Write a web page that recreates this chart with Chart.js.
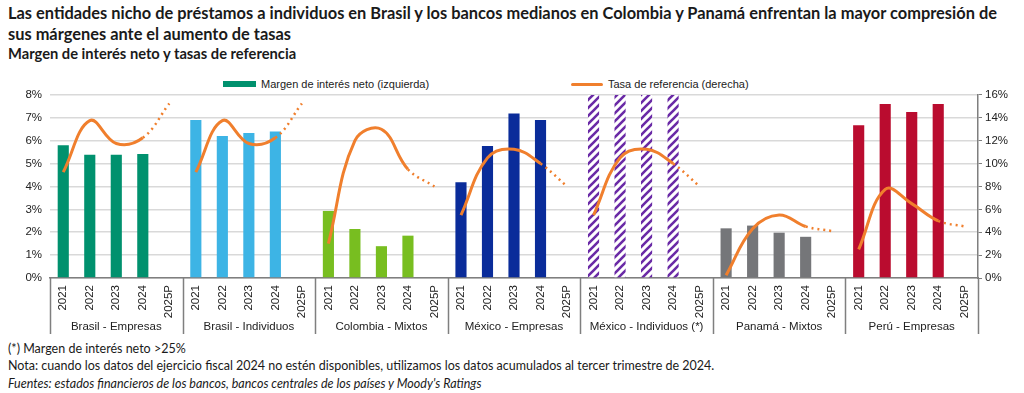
<!DOCTYPE html>
<html lang="es">
<head>
<meta charset="utf-8">
<title>Margen de interés neto y tasas de referencia</title>
<script src="https://cdn.jsdelivr.net/npm/chart.js@4"></script>
<style>
  body { margin: 0; background: #fff; width: 1024px; height: 393px; overflow: hidden; position: relative; font-family: Lato, "Noto Sans", sans-serif; color: #1a1a1a; }
  .title { position: absolute; left: 8px; top: 2px; width: 1016px; font-size: 16.4px; font-weight: 700; line-height: 21px; white-space: nowrap; }
  .subtitle { position: absolute; left: 8px; top: 44px; font-size: 14.7px; font-weight: 700; }
  .legend { position: absolute; top: 78px; font-family: "Liberation Sans", Arial, sans-serif; font-size: 11px; color: #222; display: flex; align-items: center; }
  .legend .sw { display: inline-block; margin-right: 5px; }
  .notes { position: absolute; left: 8px; top: 340px; font-size: 12.5px; line-height: 17.3px; }
  .notes i { font-style: italic; }
  #wrap { position: absolute; left: 0; top: 80px; width: 1024px; height: 258px; }
</style>
</head>
<body>
<div class="title">Las entidades nicho de préstamos a individuos en Brasil y los bancos medianos en Colombia y Panamá enfrentan la mayor compresión de<br>sus márgenes ante el aumento de tasas</div>
<div class="subtitle">Margen de interés neto y tasas de referencia</div>
<div class="legend" style="left:223px"><span class="sw" style="width:33px;height:6px;background:#00916E"></span>Margen de interés neto (izquierda)</div>
<div class="legend" style="left:571px"><span class="sw" style="width:32px;height:3px;background:#F07F2D;border-radius:2px"></span>Tasa de referencia (derecha)</div>
<div id="wrap"><canvas id="chart"></canvas></div>
<div class="notes">
  (*) Margen de interés neto &gt;25%<br>
  Nota: cuando los datos del ejercicio fiscal 2024 no estén disponibles, utilizamos los datos acumulados al tercer trimestre de 2024.<br>
  <i>Fuentes: estados financieros de los bancos, bancos centrales de los países y Moody's Ratings</i>
</div>
<script>
const years = ['2021', '2022', '2023', '2024', '2025P'];
const groups = ['Brasil - Empresas', 'Brasil - Individuos', 'Colombia - Mixtos', 'México - Empresas', 'México - Individuos (*)', 'Panamá - Mixtos', 'Perú - Empresas'];
const groupColors = ['#00916E', '#3DB4E5', '#78BE20', '#0A2C9A', 'hatch', '#757679', '#BA0C2F'];

// margen de interés neto (%), 2021-2024, no dato 2025P
const nimBrasilEmp = [5.80, 5.39, 5.39, 5.42, null];
const nimBrasilInd = [6.90, 6.20, 6.33, 6.40, null];
const nimColombia = [2.93, 2.14, 1.39, 1.85, null];
const nimMexicoEmp = [4.18, 5.77, 7.19, 6.90, null];
const nimMexicoInd = [26, 26, 26, 26, null]; // >25%, cortado en el tope del eje
const nimPanama = [2.17, 2.29, 1.98, 1.80, null];
const nimPeru = [6.67, 7.60, 7.25, 7.60, null];

// tasa de referencia (%), 2025P proyectado
const rateBrasilEmp = [9.25, 13.75, 11.75, 12.25, 15.25];
const rateBrasilInd = [9.25, 13.75, 11.75, 12.25, 15.25];
const rateColombia = [3.00, 12.00, 13.00, 9.50, 8.00];
const rateMexicoEmp = [5.50, 10.50, 11.25, 10.00, 8.00];
const rateMexicoInd = [5.50, 10.50, 11.25, 10.00, 8.00];
const ratePanama = [0.25, 4.30, 5.50, 4.50, 4.10];
const ratePeru = [2.50, 7.75, 6.50, 5.00, 4.50];

const nimSeries = [nimBrasilEmp, nimBrasilInd, nimColombia, nimMexicoEmp, nimMexicoInd, nimPanama, nimPeru];
const rateSeries = [rateBrasilEmp, rateBrasilInd, rateColombia, rateMexicoEmp, rateMexicoInd, ratePanama, ratePeru];

const labels = [];
const groupOf = [];
groups.forEach((g, gi) => years.forEach(y => { labels.push(y); groupOf.push(gi); }));

function makeHatch() {
  const c = document.createElement('canvas');
  c.width = 8; c.height = 8;
  const x = c.getContext('2d');
  x.fillStyle = '#fff';
  x.fillRect(0, 0, 8, 8);
  x.strokeStyle = '#6A2AA6';
  x.lineWidth = 2.6;
  x.beginPath();
  x.moveTo(-2, 10); x.lineTo(10, -2);
  x.moveTo(-6, 6); x.lineTo(6, -6);
  x.moveTo(2, 14); x.lineTo(14, 2);
  x.stroke();
  return x.createPattern(c, 'repeat');
}
const hatch = makeHatch();

const barData = nimSeries.flat();
const barColors = groupOf.map(gi => groupColors[gi] === 'hatch' ? hatch : groupColors[gi]);

const orange = '#F07F2D';
const lineSets = rateSeries.map((vals, gi) => {
  const data = labels.map(() => null);
  vals.forEach((v, i) => { data[gi * 5 + i] = v; });
  return {
    type: 'line',
    label: 'Tasa de referencia (derecha)',
    data: data,
    yAxisID: 'y2',
    xAxisID: 'x',
    borderColor: orange,
    borderWidth: 3,
    pointRadius: 0,
    tension: 0.4,
    spanGaps: false,
    order: 0,
    segment: {
      borderDash: ctx => (ctx.p1DataIndex % 5 === 4 ? [2, 4] : undefined),
      borderWidth: ctx => (ctx.p1DataIndex % 5 === 4 ? 2.5 : 3)
    }
  };
});

// lineas verticales que separan los grupos bajo el eje
const groupDividers = {
  id: 'groupDividers',
  afterDraw(chart) {
    const x = chart.scales.x, x2 = chart.scales.x2, area = chart.chartArea;
    const ctx = chart.ctx;
    ctx.save();
    ctx.strokeStyle = '#7f7f7f';
    ctx.lineWidth = 1.5;
    for (let k = 0; k <= groups.length; k++) {
      let px;
      if (k === 0) px = area.left;
      else if (k === groups.length) px = area.right;
      else px = (x.getPixelForValue(k * 5 - 1) + x.getPixelForValue(k * 5)) / 2;
      ctx.beginPath();
      ctx.moveTo(Math.round(px) + 0.5, area.bottom);
      ctx.lineTo(Math.round(px) + 0.5, x2.bottom);
      ctx.stroke();
    }
    ctx.restore();
  }
};

const tickFont = { family: '"Liberation Sans", Arial, sans-serif', size: 11.5 };

new Chart(document.getElementById('chart'), {
  data: {
    labels: labels,
    datasets: [
      {
        type: 'bar',
        label: 'Margen de interés neto (izquierda)',
        data: barData,
        backgroundColor: barColors,
        yAxisID: 'y',
        xAxisID: 'x',
        categoryPercentage: 1,
        barPercentage: 0.42,
        order: 1
      },
      ...lineSets
    ]
  },
  options: {
    responsive: true,
    maintainAspectRatio: false,
    animation: false,
    layout: { padding: { top: 5, bottom: 4, left: 0, right: 0 } },
    plugins: {
      legend: { display: false },
      tooltip: { enabled: false }
    },
    scales: {
      x: {
        type: 'category',
        offset: true,
        grid: { display: false, drawTicks: false },
        border: { color: '#7f7f7f', width: 1.5 },
        ticks: { minRotation: 90, maxRotation: 90, autoSkip: false, padding: 7, color: '#222', font: tickFont },
        afterFit: s => { s.height = 40; }
      },
      x2: {
        type: 'category',
        position: 'bottom',
        labels: groups,
        offset: true,
        grid: { display: false, drawTicks: false },
        border: { display: false },
        ticks: { padding: 2, color: '#222', font: tickFont },
        afterFit: s => { s.height = 16; }
      },
      y: {
        position: 'left',
        min: 0,
        max: 8,
        ticks: { stepSize: 1, padding: 8, color: '#222', font: tickFont, callback: v => v + '%' },
        grid: { color: '#d9d9d9', lineWidth: 1.5, drawTicks: false },
        border: { display: false },
        afterFit: s => { s.width = 50; }
      },
      y2: {
        position: 'right',
        min: 0,
        max: 16,
        ticks: { stepSize: 2, padding: 3, color: '#222', font: tickFont, callback: v => v + '%' },
        grid: { drawOnChartArea: false, color: '#7f7f7f', tickLength: 4 },
        border: { color: '#7f7f7f', width: 1.5 },
        afterFit: s => { s.width = 46; }
      }
    }
  },
  plugins: [groupDividers]
});
</script>
</body>
</html>
